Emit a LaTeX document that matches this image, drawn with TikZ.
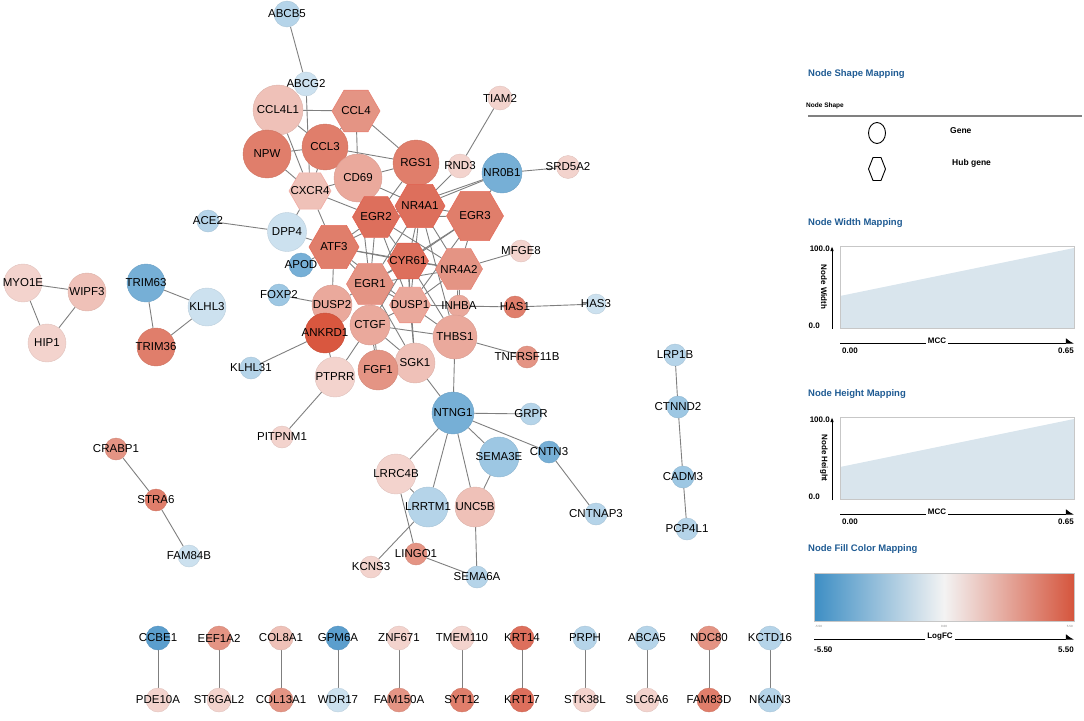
\documentclass[tikz,border=0pt]{standalone}
\usepackage{fontspec}
\setmainfont{Liberation Sans}
\usetikzlibrary{shapes.geometric,backgrounds,arrows.meta}

% fill colours (logFC scale)
\definecolor{rDeep}{HTML}{D9573F}
\definecolor{rHub}{HTML}{DD6F5C}
\definecolor{rStrong}{HTML}{E07E6B}
\definecolor{rMid}{HTML}{E49484}
\definecolor{rSoft}{HTML}{EAA99C}
\definecolor{rLight}{HTML}{EFC1B8}
\definecolor{rPale}{HTML}{F3D3CD}
\definecolor{bDeep}{HTML}{5B9ECD}
\definecolor{bMid}{HTML}{76AFD6}
\definecolor{bSoft}{HTML}{9DC7E3}
\definecolor{bLight}{HTML}{B5D4E9}
\definecolor{bPale}{HTML}{CCE1EF}
\definecolor{edgegray}{HTML}{7F7F7F}
\definecolor{legblue}{HTML}{1F5B93}
\definecolor{boxfill}{HTML}{D9E5ED}
\definecolor{cbBlue}{HTML}{3D8EC4}
\definecolor{cbWhite}{HTML}{F3F3F3}
\definecolor{cbRed}{HTML}{D5553D}

\tikzset{
  gene/.style 2 args={circle,inner sep=0pt,minimum size=#1,fill=#2,draw=#2!92!black,line width=0.4pt},
  hub/.style 2 args={regular polygon,regular polygon sides=6,inner sep=0pt,minimum size=#1,fill=#2,draw=#2!88!red,line width=0.6pt},
  lbl/.style={font=\fontsize{11.5}{12}\selectfont,inner sep=0pt,text=black},
  edge/.style={draw=edgegray,line width=0.9pt},
  legtitle/.style={font=\bfseries\fontsize{9.5}{10}\selectfont,text=legblue,anchor=west,inner sep=0pt},
  legtext/.style={font=\bfseries\fontsize{8.5}{9}\selectfont,inner sep=0pt},
  axistext/.style={font=\bfseries\fontsize{8}{9}\selectfont,inner sep=0pt},
}

\begin{document}
\begin{tikzpicture}[x=1pt,y=-1pt]
  \useasboundingbox (0,0) rectangle (1084,720);

  % main cluster
  \node[gene={26pt}{bLight},label={[lbl]center:ABCB5}] (abcb5) at (287,14) {};
  \node[gene={24pt}{bPale},label={[lbl]center:ABCG2}] (abcg2) at (306,84) {};
  \node[gene={50pt}{rLight},label={[lbl]center:CCL4L1}] (ccl4l1) at (278,110) {};
  \node[hub={48pt}{rMid},label={[lbl]center:CCL4}] (ccl4) at (356,111) {};
  \node[gene={24pt}{rPale},label={[lbl]center:TIAM2}] (tiam2) at (500,98) {};
  \node[gene={48pt}{rStrong},label={[lbl]center:NPW}] (npw) at (267,154) {};
  \node[gene={46pt}{rStrong},label={[lbl]center:CCL3}] (ccl3) at (325,147) {};
  \node[gene={46pt}{rStrong},label={[lbl]center:RGS1}] (rgs1) at (416,163) {};
  \node[gene={24pt}{rPale},label={[lbl]center:RND3}] (rnd3) at (460,166) {};
  \node[gene={40pt}{bMid},label={[lbl]center:NR0B1}] (nr0b1) at (502,173) {};
  \node[gene={23pt}{rPale},label={[lbl]center:SRD5A2}] (srd5a2) at (568,167) {};
  \node[gene={48pt}{rSoft},label={[lbl]center:CD69}] (cd69) at (358,178) {};
  \node[hub={42pt}{rLight},label={[lbl]center:CXCR4}] (cxcr4) at (310,191) {};
  \node[hub={50pt}{rHub},label={[lbl]center:NR4A1}] (nr4a1) at (420,206) {};
  \node[hub={47pt}{rHub},label={[lbl]center:EGR2}] (egr2) at (376,217) {};
  \node[hub={57pt}{rStrong},label={[lbl]center:EGR3}] (egr3) at (475,216) {};
  \node[gene={22pt}{bLight},label={[lbl]center:ACE2}] (ace2) at (208,221) {};
  \node[gene={39pt}{bPale},label={[lbl]center:DPP4}] (dpp4) at (287,232) {};
  \node[hub={50pt}{rStrong},label={[lbl]center:ATF3}] (atf3) at (334,247) {};
  \node[gene={24pt}{bMid},label={[lbl]center:APOD}] (apod) at (301,265) {};
  \node[hub={41pt}{rHub},label={[lbl]center:CYR61}] (cyr61) at (408,261) {};
  \node[hub={47pt}{rMid},label={[lbl]center:NR4A2}] (nr4a2) at (459,269) {};
  \node[gene={22pt}{rPale},label={[lbl]center:MFGE8}] (mfge8) at (521,251) {};
  \node[hub={47pt}{rMid},label={[lbl]center:EGR1}] (egr1) at (370,284) {};
  \node[gene={22pt}{bSoft},label={[lbl]center:FOXP2}] (foxp2) at (279,295) {};
  \node[gene={40pt}{rSoft},label={[lbl]center:DUSP2}] (dusp2) at (332,305) {};
  \node[hub={41pt}{rSoft},label={[lbl]center:DUSP1}] (dusp1) at (410,305) {};
  \node[gene={22pt}{rSoft},label={[lbl]center:INHBA}] (inhba) at (459,306) {};
  \node[gene={22pt}{rStrong},label={[lbl]center:HAS1}] (has1) at (515,307) {};
  \node[gene={20pt}{bPale},label={[lbl]center:HAS3}] (has3) at (596,304) {};
  \node[gene={40pt}{rDeep},label={[lbl]center:ANKRD1}] (ankrd1) at (325,333) {};
  \node[gene={40pt}{rSoft},label={[lbl]center:CTGF}] (ctgf) at (370,325) {};
  \node[gene={44pt}{rSoft},label={[lbl]center:THBS1}] (thbs1) at (455,337) {};
  \node[gene={22pt}{rMid},label={[lbl]center:TNFRSF11B}] (tnfrsf11b) at (527,357) {};
  \node[gene={40pt}{rLight},label={[lbl]center:SGK1}] (sgk1) at (415,363) {};
  \node[gene={40pt}{rMid},label={[lbl]center:FGF1}] (fgf1) at (378,370) {};
  \node[gene={40pt}{rPale},label={[lbl]center:PTPRR}] (ptprr) at (335,377) {};
  \node[gene={22pt}{bLight},label={[lbl]center:KLHL31}] (klhl31) at (251,368) {};
  \node[gene={22pt}{rPale},label={[lbl]center:PITPNM1}] (pitpnm1) at (282,437) {};

  % NTNG1 neighbourhood
  \node[gene={42pt}{bMid},label={[lbl]center:NTNG1}] (ntng1) at (453,413) {};
  \node[gene={22pt}{bLight},label={[lbl]center:GRPR}] (grpr) at (531,414) {};
  \node[gene={22pt}{bMid},label={[lbl]center:CNTN3}] (cntn3) at (549,452) {};
  \node[gene={40pt}{bSoft},label={[lbl]center:SEMA3E}] (sema3e) at (499,457) {};
  \node[gene={40pt}{rPale},label={[lbl]center:LRRC4B}] (lrrc4b) at (396,474) {};
  \node[gene={40pt}{bLight},label={[lbl]center:LRRTM1}] (lrrtm1) at (428,507) {};
  \node[gene={40pt}{rLight},label={[lbl]center:UNC5B}] (unc5b) at (475,507) {};
  \node[gene={22pt}{bLight},label={[lbl]center:CNTNAP3}] (cntnap3) at (596,514) {};
  \node[gene={22pt}{rMid},label={[lbl]center:LINGO1}] (lingo1) at (416,554) {};
  \node[gene={22pt}{rPale},label={[lbl]center:KCNS3}] (kcns3) at (371,567) {};
  \node[gene={22pt}{bLight},label={[lbl]center:SEMA6A}] (sema6a) at (477,577) {};

  % small components
  \node[gene={38pt}{rPale},label={[lbl]center:MYO1E}] (myo1e) at (23,283) {};
  \node[gene={38pt}{rLight},label={[lbl]center:WIPF3}] (wipf3) at (87,292) {};
  \node[gene={38pt}{rPale},label={[lbl]center:HIP1}] (hip1) at (47,343) {};
  \node[gene={38pt}{bMid},label={[lbl]center:TRIM63}] (trim63) at (146,283) {};
  \node[gene={38pt}{bPale},label={[lbl]center:KLHL3}] (klhl3) at (207,307) {};
  \node[gene={38pt}{rStrong},label={[lbl]center:TRIM36}] (trim36) at (156,347) {};
  \node[gene={22pt}{rMid},label={[lbl]center:CRABP1}] (crabp1) at (116,449) {};
  \node[gene={22pt}{rStrong},label={[lbl]center:STRA6}] (stra6) at (156,500) {};
  \node[gene={22pt}{bPale},label={[lbl]center:FAM84B}] (fam84b) at (189,556) {};
  \node[gene={22pt}{bLight},label={[lbl]center:LRP1B}] (lrp1b) at (675,355) {};
  \node[gene={22pt}{bSoft},label={[lbl]center:CTNND2}] (ctnnd2) at (678,407) {};
  \node[gene={22pt}{bSoft},label={[lbl]center:CADM3}] (cadm3) at (683,477) {};
  \node[gene={22pt}{bLight},label={[lbl]center:PCP4L1}] (pcp4l1) at (687,529) {};

  % edges
  \begin{scope}[on background layer]
    \foreach \a/\b in {abcb5/abcg2, abcg2/cxcr4, ccl4l1/ccl4, ccl4l1/ccl3, ccl4l1/cxcr4,
        npw/ccl3, npw/cxcr4, ccl3/ccl4, ccl3/rgs1, ccl3/cxcr4, ccl4/cd69, ccl4/rgs1,
        cd69/rgs1, cd69/cxcr4, cd69/nr4a1, cd69/egr1, rgs1/nr4a1, rgs1/egr2,
        tiam2/rnd3, rnd3/nr4a1, nr0b1/srd5a2, nr0b1/nr4a1, nr0b1/egr3, nr0b1/egr2,
        ace2/dpp4, dpp4/cxcr4, dpp4/atf3, cxcr4/atf3, cxcr4/egr2, apod/atf3,
        atf3/egr2, atf3/nr4a1, atf3/cyr61, atf3/egr1, atf3/dusp2, atf3/nr4a2, atf3/dusp1,
        egr2/nr4a1, egr2/cyr61, egr2/egr1, egr2/nr4a2, egr2/dusp1, egr2/egr3,
        nr4a1/egr3, nr4a1/cyr61, nr4a1/nr4a2, nr4a1/egr1, nr4a1/dusp1, nr4a1/thbs1,
        egr3/cyr61, egr3/nr4a2, egr3/egr1, egr3/dusp1,
        cyr61/nr4a2, cyr61/egr1, cyr61/dusp1, cyr61/ctgf, cyr61/sgk1, cyr61/thbs1,
        nr4a2/mfge8, nr4a2/dusp1, nr4a2/inhba, nr4a2/thbs1, nr4a2/egr1,
        foxp2/dusp2, egr1/dusp2, egr1/ctgf, egr1/dusp1, egr1/fgf1, egr1/sgk1,
        dusp1/inhba, dusp1/sgk1, dusp1/thbs1, dusp1/ctgf, inhba/has1, has1/has3,
        ctgf/thbs1, ctgf/fgf1, ctgf/sgk1, ctgf/ptprr, klhl31/ankrd1, ankrd1/ptprr,
        ptprr/pitpnm1, thbs1/tnfrsf11b, thbs1/ntng1, sgk1/ntng1,
        ntng1/grpr, ntng1/cntn3, ntng1/sema3e, ntng1/lrrc4b, ntng1/lrrtm1, ntng1/unc5b,
        cntn3/cntnap3, sema3e/unc5b, lrrc4b/lrrtm1, lrrc4b/lingo1, lrrtm1/kcns3,
        unc5b/sema6a, lingo1/sema6a,
        myo1e/wipf3, myo1e/hip1, wipf3/hip1, trim63/klhl3, trim63/trim36, klhl3/trim36,
        crabp1/stra6, stra6/fam84b, lrp1b/ctnnd2, ctnnd2/cadm3, cadm3/pcp4l1}
      \draw[edge] (\a) -- (\b);
  \end{scope}

  % pairs in the bottom row
  \foreach \x/\ta/\ca/\tb/\cb [count=\i] in {158/CCBE1/bDeep/PDE10A/rPale,
      219/EEF1A2/rMid/ST6GAL2/rPale, 281/COL8A1/rLight/COL13A1/rMid,
      338/GPM6A/bDeep/WDR17/bPale, 399/ZNF671/rPale/FAM150A/rMid,
      462/TMEM110/rPale/SYT12/rStrong, 522/KRT14/rHub/KRT17/rHub,
      585/PRPH/bLight/STK38L/rPale, 647/ABCA5/bLight/SLC6A6/rPale,
      709/NDC80/rMid/FAM83D/rStrong, 770/KCTD16/bLight/NKAIN3/bLight}
  {
    \node[gene={24pt}{\ca},label={[lbl]center:\ta}] (up\i) at (\x,638) {};
    \node[gene={24pt}{\cb},label={[lbl]center:\tb}] (dn\i) at (\x,700) {};
    \begin{scope}[on background layer]
      \draw[edge] (up\i) -- (dn\i);
    \end{scope}
  }

  % legend: node shape
  \node[legtitle] (tshape) at (808,74) {Node Shape Mapping};
  \node[font=\bfseries\fontsize{6.5}{7}\selectfont,anchor=west,inner sep=0pt] (shapehead) at (806,106) {Node Shape};
  \draw[draw=gray,line width=1.3pt] (808,116) -- (1082,116);
  \node[ellipse,draw=black,line width=0.9pt,minimum width=17pt,minimum height=21pt,inner sep=0pt] (legcirc) at (877,133) {};
  \draw[line width=0.9pt] (868.5,169) -- (873,157.5) -- (881,157.5) -- (885.5,169) -- (881,180.5) -- (873,180.5) -- cycle;
  \node[legtext,anchor=west] (genetxt) at (950,131) {Gene};
  \node[legtext,anchor=west] (hubtxt) at (952,163) {Hub gene};

  % legend: width and height
  \foreach \dy/\nm/\tg in {0/Width/w, 171/Height/h}
  {
    \node[legtitle] (t\tg) at (808,223+\dy) {Node \nm\ Mapping};
    \fill[boxfill] (840,296+\dy) -- (1074,248+\dy) -- (1074,328+\dy) -- (840,328+\dy) -- cycle;
    \draw[draw=black!22,line width=0.8pt] (840,246+\dy) rectangle (1074,328+\dy);
    \draw[line width=1pt,-{Latex[length=5pt,width=3.5pt]}] (832,329+\dy) -- (832,246+\dy);
    \node[axistext,anchor=east] (top\tg) at (830,249+\dy) {100.0};
    \node[axistext,anchor=east] (bot\tg) at (820,326+\dy) {0.0};
    \node[axistext,rotate=-90] (ax\tg) at (824,287+\dy) {Node \nm};
    \draw[line width=1pt,-{Latex[length=7pt,width=10pt,left]}] (840,343+\dy) -- (1074,343+\dy);
    \node[axistext,fill=white,inner sep=2pt] (mcc\tg) at (937,341+\dy) {MCC};
    \node[axistext,anchor=west] (lo\tg) at (842,351+\dy) {0.00};
    \node[axistext,anchor=east] (hi\tg) at (1074,351+\dy) {0.65};
  }

  % legend: fill colour
  \node[legtitle] (tfill) at (808,549) {Node Fill Color Mapping};
  \shade[left color=cbBlue,right color=cbRed,middle color=cbWhite] (814,573) rectangle (1074,621);
  \draw[draw=black!22,line width=0.8pt] (814,573) rectangle (1074,621);
  \node[font=\fontsize{3}{3}\selectfont,text=gray,anchor=west,inner sep=0pt] (cmin) at (815,626) {-5.50};
  \node[font=\fontsize{3}{3}\selectfont,text=gray,inner sep=0pt] (cmid) at (944,626) {0.00};
  \node[font=\fontsize{3}{3}\selectfont,text=gray,anchor=east,inner sep=0pt] (cmax) at (1073,626) {5.50};
  \draw[line width=1pt,-{Latex[length=7pt,width=10pt,left]}] (814,639) -- (1074,639);
  \node[axistext,fill=white,inner sep=2pt] (logfc) at (940,637) {LogFC};
  \node[axistext,anchor=west] (fcmin) at (814,650) {-5.50};
  \node[axistext,anchor=east] (fcmax) at (1074,650) {5.50};
\end{tikzpicture}
\end{document}
